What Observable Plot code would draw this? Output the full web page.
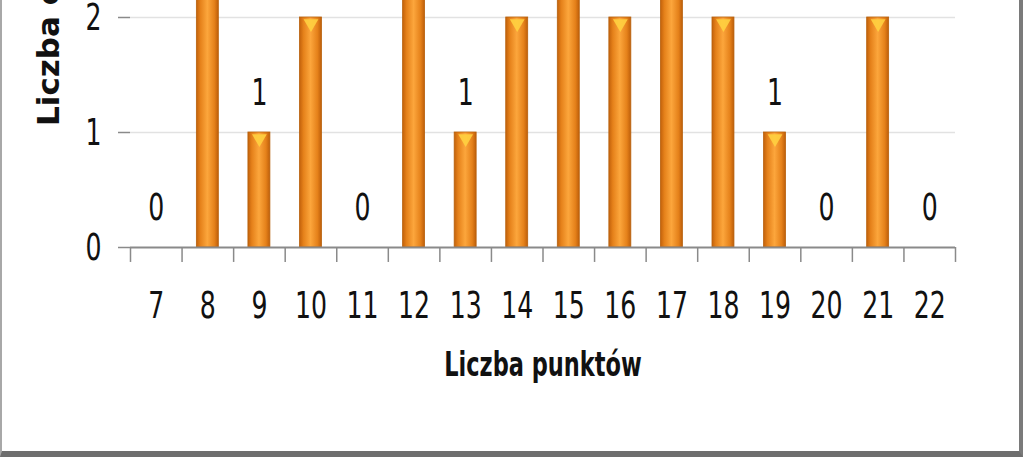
<!DOCTYPE html>
<html>
<head>
<meta charset="utf-8">
<script src="https://cdn.jsdelivr.net/npm/d3@7"></script>
<script src="https://cdn.jsdelivr.net/npm/@observablehq/plot@0.6"></script>
<style>
  html, body { margin: 0; padding: 0; background: #fff; }
  #wrap { position: relative; width: 1023px; height: 457px; overflow: hidden; background: #fff; }
  #chart { position: absolute; left: 0; top: -213px; }
  #frame { position: absolute; left: 0; top: 0; width: 1023px; height: 457px; box-sizing: border-box;
           border-left: 2px solid #a8a8a8; border-right: 4px solid #7a7a7a; border-bottom: 6px solid #6e6e6e; pointer-events: none; }
  #ytitle { position: absolute; left: 34px; top: 126px; transform-origin: left top; transform: rotate(-90deg) scale(1.15, 1);
            font-family: 'DejaVu Sans Condensed', 'DejaVu Sans', sans-serif; font-weight: bold;
            font-size: 30px; line-height: 30px; white-space: nowrap; color: #111; }
</style>
</head>
<body>
<div id="wrap">
  <div id="chart"></div>
  <div id="ytitle">Liczba osób</div>
  <div id="frame"></div>
</div>
<script>
const categories = [7, 8, 9, 10, 11, 12, 13, 14, 15, 16, 17, 18, 19, 20, 21, 22];
const counts     = [0, 3, 1, 2, 0, 3, 1, 2, 3, 2, 3, 2, 1, 0, 2, 0];
const yTicks = [0, 1, 2];
const xTitle = "Liczba punktów";

const data = categories.map((k, i) => ({k, v: counts[i]}));
const boundaries = categories.map(c => c - 0.5).concat([categories[categories.length - 1] + 0.5]);
const font = "'DejaVu Sans Condensed', 'DejaVu Sans', sans-serif";
const half = 0.213;

const svg = Plot.plot({
  width: 1023,
  height: 670,
  marginLeft: 130,
  marginRight: 68,
  marginTop: 0,
  marginBottom: 210,
  style: {fontFamily: font, fontSize: "28px", color: "#111", background: "transparent", overflow: "visible"},
  x: {type: "linear", domain: [6.5, 22.5], axis: null},
  y: {domain: [0, 4], axis: null},
  marks: [
    Plot.ruleY(yTicks.filter(d => d > 0), {stroke: "#e2e2e2", strokeWidth: 1.5}),
    Plot.axisY({ticks: yTicks, tickSize: 12, tickPadding: 17, fontSize: 28, stroke: "#8a8a8a", strokeWidth: 1.5, fill: "#111", label: null, tickFormat: d => String(d)}),
    Plot.rectY(data, {x1: d => d.k - half, x2: d => d.k + half, y: "v", fill: "url(#barGrad)", stroke: "#b8600c", strokeWidth: 0.8}),
    Plot.dot(data.filter(d => d.v > 0), {x: "k", y: "v", symbol: "triangle", rotate: 180, r: 5.5, fill: "#ffd040", fillOpacity: 0.9, stroke: "none", dy: 6}),
    Plot.ruleY([0], {stroke: "#8a8a8a", strokeWidth: 2}),
    Plot.ruleX(boundaries, {x: d => d, y1: 0, y2: -0.13, stroke: "#8a8a8a", strokeWidth: 1.5}),
    // value labels (only those inside the visible window of the reference)
    Plot.text(data.filter(d => d.v <= 1), {x: "k", y: "v", text: d => String(d.v), dy: -40, fontSize: 28, fill: "#111"}),
    Plot.text(categories, {x: d => d, y: 0, text: d => String(d), dy: 58, fontSize: 28, fill: "#111"}),
    Plot.text([xTitle], {frameAnchor: "bottom", dy: 128, fontSize: 25, fill: "#111", fontWeight: "bold"})
  ]
});

// stretch text vertically like the reference's tall, narrow glyphs
d3.select(svg).selectAll("text").attr("transform", function() {
  const t = this.getAttribute("transform") || "";
  return t + " scale(1,1.35)";
});

const defs = d3.select(svg).insert("defs", ":first-child");
const g = defs.append("linearGradient").attr("id", "barGrad").attr("x1", 0).attr("x2", 1).attr("y1", 0).attr("y2", 0);
[[0, "#c2610b"], [0.18, "#e5811a"], [0.5, "#fca63c"], [0.82, "#e5811a"], [1, "#bd5e0a"]].forEach(([o, c]) =>
  g.append("stop").attr("offset", o).attr("stop-color", c));

document.getElementById("chart").appendChild(svg);
</script>
</body>
</html>
